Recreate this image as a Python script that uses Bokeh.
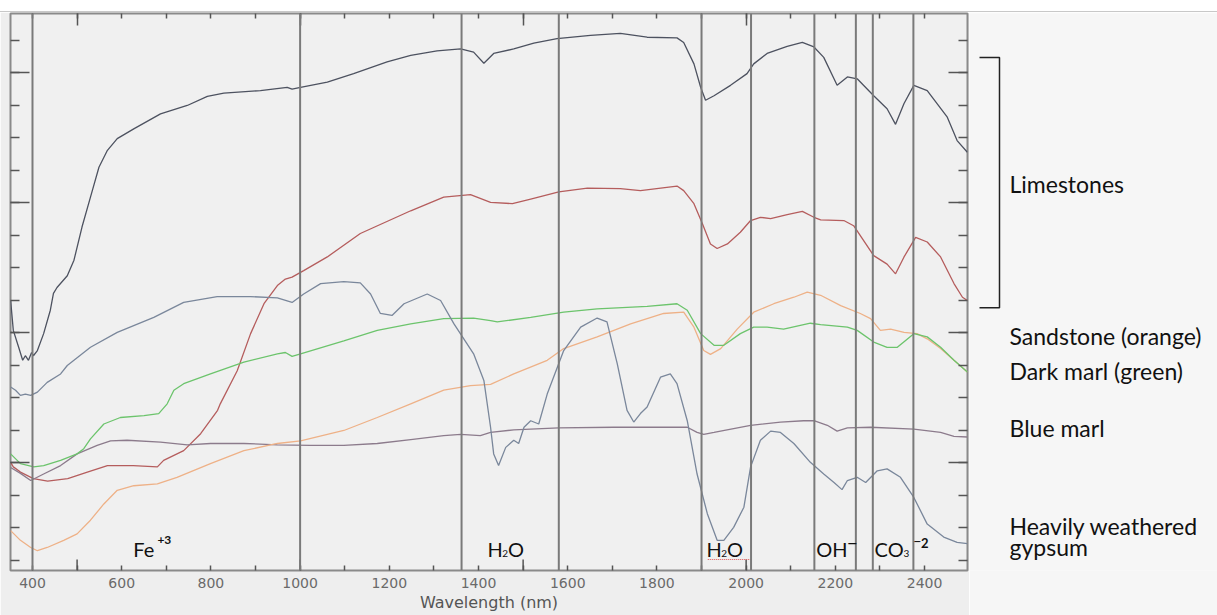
from bokeh.plotting import figure
from bokeh.layouts import column, row
from bokeh.models import Range1d, LinearAxis, FixedTicker, Span, Label, Div
from bokeh.embed import file_html
from bokeh.resources import INLINE

# ---- spectra: wavelength (nm) and reflectance (%) ----
limestone_a_wl = [351, 357, 369, 378, 384, 391, 398, 402, 411, 425, 440, 447, 455, 478, 493, 511, 530, 549, 568, 590,
                  627, 687, 747, 792, 829, 911, 971, 982, 1001, 1061, 1120, 1195, 1248, 1307, 1360, 1389, 1412, 1434, 1479, 1524,
                  1576, 1651, 1718, 1778, 1845, 1860, 1883, 1898, 1909, 1928, 1965, 2002, 2017, 2047, 2092, 2126, 2152, 2174, 2204, 2227,
                  2249, 2286, 2316, 2335, 2354, 2376, 2406, 2451, 2473, 2496]
limestone_a_r = [45.0, 40.4, 37.8, 35.8, 36.5, 35.8, 37.0, 36.5, 37.3, 39.9, 43.5, 46.1, 47.0, 48.8, 51.2, 56.3, 60.9, 65.5, 68.1, 69.9,
                 71.4, 73.7, 75.0, 76.4, 76.9, 77.3, 77.8, 77.5, 77.8, 78.6, 79.9, 81.7, 82.7, 83.4, 83.7, 83.2, 81.5, 83.0, 83.7, 84.6,
                 85.3, 85.8, 86.1, 85.5, 85.4, 84.7, 81.4, 77.8, 75.8, 76.5, 78.1, 79.9, 81.4, 83.0, 84.1, 84.7, 84.0, 82.4, 78.1, 79.4,
                 79.1, 76.5, 74.5, 72.1, 75.3, 78.1, 77.3, 73.2, 69.6, 67.8]

limestone_b_wl = [351, 357, 373, 402, 434, 479, 523, 568, 626, 680, 694, 739, 777, 815, 821, 859, 889, 919, 949, 967,
                  982, 1008, 1061, 1135, 1248, 1322, 1382, 1427, 1476, 1517, 1580, 1644, 1718, 1763, 1845, 1860, 1883, 1902, 1920, 1935,
                  1958, 1987, 2010, 2032, 2055, 2092, 2126, 2152, 2167, 2219, 2241, 2286, 2316, 2335, 2354, 2380, 2406, 2436, 2466, 2485,
                  2496]
limestone_b_r = [20.1, 19.4, 18.6, 17.6, 17.2, 17.6, 18.6, 19.6, 19.6, 19.4, 20.4, 21.9, 24.5, 28.1, 29.1, 34.2, 39.9, 44.5, 47.3, 48.3,
                 48.6, 49.6, 51.7, 55.3, 58.8, 60.9, 61.3, 60.1, 59.9, 60.6, 61.7, 62.3, 62.2, 61.9, 62.6, 61.9, 59.9, 56.8, 53.7, 53.0,
                 53.7, 55.5, 57.3, 57.8, 57.6, 58.2, 58.7, 57.8, 57.4, 57.3, 56.5, 51.9, 50.6, 49.1, 51.7, 54.7, 54.0, 51.7, 47.6, 45.5,
                 45.0]

gypsum_wl = [351, 362, 373, 384, 396, 411, 433, 463, 478, 530, 590, 672, 739, 814, 889, 949, 982, 1008, 1046, 1098,
             1135, 1158, 1180, 1206, 1233, 1285, 1315, 1345, 1367, 1389, 1412, 1427, 1434, 1445, 1461, 1479, 1490, 1502, 1517, 1535,
             1554, 1591, 1629, 1666, 1688, 1711, 1733, 1748, 1763, 1778, 1808, 1830, 1845, 1868, 1890, 1913, 1935, 1950, 1972, 1995,
             2010, 2032, 2055, 2077, 2107, 2144, 2174, 2197, 2215, 2227, 2249, 2268, 2294, 2316, 2346, 2376, 2406, 2443, 2473, 2496]
gypsum_r = [31.7, 31.2, 30.4, 30.6, 30.4, 30.9, 32.4, 33.7, 35.0, 37.8, 40.1, 42.4, 44.7, 45.6, 45.6, 45.4, 44.7, 46.0, 47.6, 47.9,
            47.7, 46.0, 43.0, 42.7, 44.5, 46.0, 45.0, 41.4, 39.1, 36.8, 32.7, 25.5, 21.4, 19.6, 22.4, 23.5, 23.0, 25.5, 26.5, 26.0,
            30.6, 37.3, 40.9, 42.3, 41.7, 35.3, 28.1, 26.3, 27.6, 28.6, 33.2, 33.7, 32.2, 26.5, 18.3, 12.2, 8.1, 8.1, 10.1, 13.2,
            19.4, 23.5, 24.9, 24.7, 23.0, 20.1, 18.3, 17.0, 15.9, 17.3, 17.8, 17.0, 18.8, 19.1, 17.8, 14.7, 10.6, 8.6, 7.8, 7.6]

dark_marl_wl = [351, 373, 403, 425, 463, 500, 515, 530, 560, 597, 650, 683, 702, 717, 739, 799, 874, 949, 967, 982,
                1001, 1098, 1173, 1248, 1322, 1389, 1427, 1442, 1517, 1591, 1666, 1778, 1845, 1868, 1898, 1928, 1950, 1987, 2017, 2047,
                2084, 2144, 2167, 2227, 2249, 2286, 2316, 2339, 2376, 2406, 2436, 2466, 2496]
dark_marl_r = [21.4, 19.9, 19.4, 19.6, 20.4, 21.4, 22.2, 23.7, 26.0, 27.0, 27.3, 27.6, 29.1, 31.2, 32.2, 33.7, 35.5, 36.8, 37.0, 36.4,
               36.8, 38.8, 40.4, 41.4, 42.2, 42.3, 41.9, 41.7, 42.4, 43.2, 43.7, 44.1, 44.5, 43.5, 39.9, 38.1, 38.1, 39.9, 40.9, 40.9,
               40.6, 41.5, 41.3, 40.9, 40.4, 38.6, 37.8, 37.8, 39.9, 39.4, 37.8, 35.8, 34.0]

sandstone_wl = [351, 373, 396, 411, 433, 470, 500, 530, 560, 590, 627, 680, 724, 799, 874, 949, 1001, 1098, 1173, 1248,
                1322, 1382, 1427, 1479, 1554, 1591, 1666, 1741, 1815, 1860, 1883, 1905, 1920, 1943, 1980, 2017, 2062, 2107, 2137, 2167,
                2212, 2256, 2279, 2301, 2324, 2354, 2383, 2406, 2436, 2466, 2496]
sandstone_r = [9.6, 8.1, 7.0, 6.5, 7.0, 8.1, 9.1, 11.2, 13.7, 15.8, 16.5, 16.8, 17.8, 19.9, 21.9, 23.0, 23.4, 25.0, 27.0, 29.1,
               31.2, 31.9, 32.1, 33.7, 35.8, 37.6, 39.4, 41.4, 43.0, 43.2, 40.9, 37.3, 36.7, 37.6, 40.6, 43.2, 44.5, 45.5, 46.3, 45.8,
               44.2, 43.0, 42.2, 40.4, 40.6, 40.1, 39.9, 39.1, 37.6, 35.8, 34.0]

blue_marl_wl = [351, 373, 396, 425, 463, 500, 545, 575, 612, 687, 747, 799, 874, 949, 1023, 1098, 1173, 1248, 1322, 1360,
                1404, 1427, 1479, 1580, 1703, 1868, 1890, 1905, 1928, 2010, 2077, 2129, 2152, 2182, 2204, 2227, 2279, 2376, 2436, 2466,
                2496]
blue_marl_r = [19.3, 18.4, 17.3, 18.3, 19.6, 21.4, 22.7, 23.4, 23.5, 23.2, 22.8, 23.0, 23.0, 22.8, 22.7, 22.7, 23.0, 23.6, 24.2, 24.4,
               24.2, 24.7, 25.1, 25.4, 25.5, 25.5, 24.7, 24.4, 24.7, 25.8, 26.3, 26.5, 26.5, 25.8, 24.9, 25.4, 25.5, 25.2, 24.7, 24.1,
               24.0]

# absorption-feature window edges (nm)
band_edges = [400, 1000, 1362, 1580, 1900, 2011, 2153, 2246, 2284, 2375]

# axis ticks
tick_labels = [400, 600, 800, 1000, 1200, 1400, 1600, 1800, 2000, 2200, 2400]
x_odd_hundreds = [500, 700, 900, 1100, 1300, 1500, 1700, 1900, 2100, 2300]
x_all_hundreds = list(range(400, 2500, 100))
x_long = [500, 1000, 1500, 2000]
y_long = [20, 40, 60, 80]
y_short = list(range(5, 90, 5))

X_RANGE = (350.7, 2496.3)
Y_RANGE = (3.46, 89.15)
y_rng = Range1d(*Y_RANGE)

FONT = "Lato"
INK = "#111111"
TICK_COL = "#555555"

p = figure(frame_width=957, frame_height=557, output_backend="svg", toolbar_location=None,
           x_range=Range1d(*X_RANGE), y_range=y_rng,
           min_border_left=10, min_border_right=2, min_border_top=1, min_border_bottom=45)
p.grid.visible = False
p.background_fill_color = "#f0f0f0"
p.border_fill_color = "#eeeeee"
p.outline_line_color = "#8a8a8a"
p.outline_line_width = 2

# bottom axis: labels every 200 nm, short ticks every 100 nm
xax = p.xaxis[0]
xax.ticker = FixedTicker(ticks=tick_labels, minor_ticks=x_odd_hundreds)
xax.major_tick_in = 5
xax.major_tick_out = 0
xax.minor_tick_in = 5
xax.minor_tick_out = 0
xax.major_tick_line_color = TICK_COL
xax.minor_tick_line_color = TICK_COL
xax.major_tick_line_width = 1.5
xax.minor_tick_line_width = 1.5
xax.axis_line_color = None
xax.major_label_text_font = "DejaVu Sans"
xax.major_label_text_font_size = "14px"
xax.major_label_text_color = "#6a6a6a"
xax.major_label_standoff = 7
xax.axis_label = "Wavelength (nm)"
xax.axis_label_text_font = "DejaVu Sans"
xax.axis_label_text_font_size = "16px"
xax.axis_label_text_font_style = "normal"
xax.axis_label_text_color = "#555555"
xax.axis_label_standoff = 2

# longer ticks every 500 nm along the bottom edge
tick_len = 11 * (Y_RANGE[1] - Y_RANGE[0]) / 557
p.segment(x0=x_long, x1=x_long, y0=[Y_RANGE[0]] * len(x_long),
          y1=[Y_RANGE[0] + tick_len] * len(x_long), line_color=TICK_COL, line_width=1.5)

# top, left and right axes carry ticks only
top_ax = LinearAxis(ticker=FixedTicker(ticks=x_long, minor_ticks=x_all_hundreds))
p.add_layout(top_ax, "above")
yax = p.yaxis[0]
right_ax = LinearAxis()
p.add_layout(right_ax, "right")

for ax in (top_ax, yax, right_ax):
    ax.major_tick_out = 0
    ax.minor_tick_out = 0
    ax.major_tick_line_color = TICK_COL
    ax.minor_tick_line_color = TICK_COL
    ax.major_tick_line_width = 1.5
    ax.minor_tick_line_width = 1.5
    ax.axis_line_color = None
    ax.major_label_text_font_size = "1px"
    ax.major_label_text_color = None
    ax.major_label_standoff = 0

top_ax.major_tick_in = 12
top_ax.minor_tick_in = 5
for ax in (yax, right_ax):
    ax.ticker = FixedTicker(ticks=y_long, minor_ticks=y_short)
    ax.major_tick_in = 19
    ax.minor_tick_in = 9

# spectra
series = [
    (limestone_a_wl, limestone_a_r, "#4d5260"),
    (limestone_b_wl, limestone_b_r, "#b55d5d"),
    (blue_marl_wl, blue_marl_r, "#8c7b8c"),
    (sandstone_wl, sandstone_r, "#eeb187"),
    (dark_marl_wl, dark_marl_r, "#6cc46c"),
    (gypsum_wl, gypsum_r, "#7a879b"),
]
for wl, r, col in series:
    p.line(wl, r, line_color=col, line_width=1.3)

# absorption windows
for edge in band_edges:
    p.add_layout(Span(location=edge, dimension="height", line_color="#7a7a7a", line_width=2))

# feature labels (main text, sub- and superscripts)
feature_text = [
    ("Fe", 626, 6.8, "20px", "normal"),
    ("+3", 680, 8.1, "12px", "bold"),
    ("H", 1420, 6.8, "20px", "normal"),
    ("2", 1453, 6.15, "10px", "normal"),
    ("O", 1466, 6.8, "20px", "normal"),
    ("H", 1911, 6.8, "20px", "normal"),
    ("2", 1944, 6.15, "10px", "normal"),
    ("O", 1957, 6.8, "20px", "normal"),
    ("OH", 2157, 6.8, "20px", "normal"),
    ("\u2013", 2225, 8.05, "20px", "normal"),
    ("CO", 2288, 6.8, "20px", "normal"),
    ("3", 2353, 6.15, "10px", "normal"),
    ("\u2013", 2374, 8.1, "15px", "normal"),
    ("2", 2392, 7.7, "13px", "bold"),
]
for txt, x, y, size, style in feature_text:
    p.add_layout(Label(x=x, y=y, text=txt, text_font=FONT, text_font_size=size,
                       text_font_style=style, text_color=INK, text_baseline="alphabetic",
                       text_align="left"))

# word-processor style wavy underline under the second water label
p.segment(x0=[1914], x1=[2010], y0=[5.15], y1=[5.15], line_color="#e05555",
          line_width=1.2, line_dash="1 1")

# ---- side panel with the sample names ----
side = figure(width=248, height=603, output_backend="svg", toolbar_location=None,
              x_range=Range1d(0, 248), y_range=y_rng,
              x_axis_location=None, y_axis_location=None,
              min_border_left=0, min_border_right=0, min_border_top=1, min_border_bottom=45)
side.grid.visible = False
side.outline_line_color = None
side.background_fill_color = "#f6f6f6"
side.border_fill_color = "#f6f6f6"

# bracket grouping the two limestone spectra
side.line([10, 30, 30, 10], [82.4, 82.4, 43.9, 43.9], line_color="#222222", line_width=1.5)

sample_names = [
    ("Limestones", 62.9),
    ("Sandstone (orange)", 39.5),
    ("Dark marl (green)", 34.1),
    ("Blue marl", 25.4),
    ("Heavily weathered", 10.3),
    ("gypsum", 7.0),
]
for txt, y in sample_names:
    side.add_layout(Label(x=40, y=y, text=txt, text_font=FONT, text_font_size="23px",
                          text_color=INK, text_baseline="alphabetic", text_align="left"))

top_strip = Div(text="", width=1217, height=12, margin=0,
                styles={"background-color": "white", "border-bottom": "1px solid #c8c8c8",
                        "box-sizing": "border-box"})

layout = column(top_strip, row(p, side, spacing=0), spacing=0)

open("out.html", "w").write(file_html(layout, INLINE))
